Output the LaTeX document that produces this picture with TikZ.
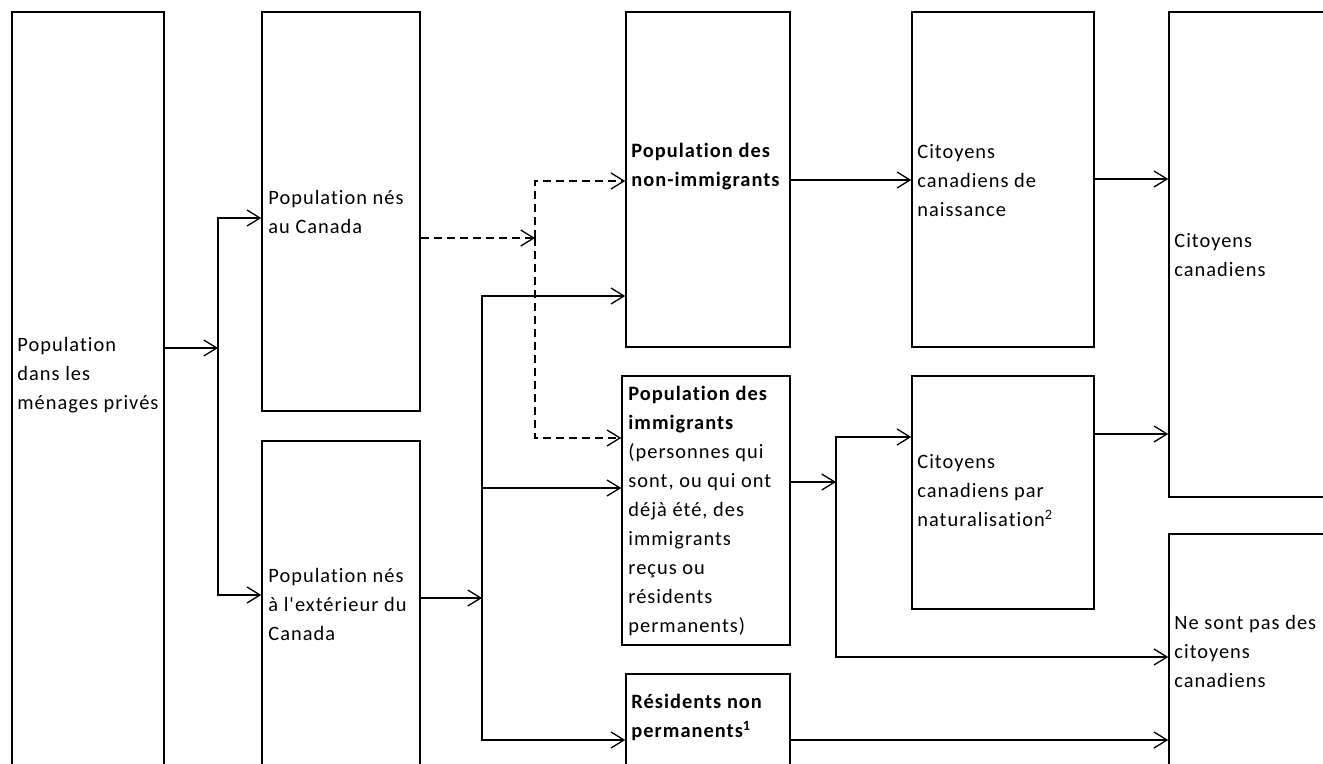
\documentclass[tikz,border=0pt]{standalone}
\usepackage{fontspec}
\setmainfont{Carlito}[LetterSpace=5, Ligatures={CommonOff,TeXOff}]
\usetikzlibrary{arrows.meta,fit}
\tikzset{
  box/.style={draw, line width=0.75pt, inner sep=0pt, rectangle},
  txt/.style={anchor=west, align=left, inner sep=0pt, font=\fontsize{10.2}{14.5}\selectfont},
  arr/.style={line width=0.65pt, -{Straight Barb[length=6.5pt, width=8pt, line width=0.65pt]}},
  darr/.style={arr, dash pattern=on 4pt off 2.5pt},
}
\begin{document}
\begin{tikzpicture}[x=0.5pt,y=-0.5pt]
\useasboundingbox (0,0) rectangle (1323,764);
% boxes
\node[box, fit={(12,12) (164,790)}] (A) {};
\node[box, fit={(262,12) (420,411)}] (B) {};
\node[box, fit={(262,441) (420,790)}] (C) {};
\node[box, fit={(626,12) (790,347)}] (D) {};
\node[box, fit={(622,376) (790,645)}] (E) {};
\node[box, fit={(626,674) (790,790)}] (F) {};
\node[box, fit={(912,12) (1094,347)}] (G) {};
\node[box, fit={(912,376) (1094,609)}] (H) {};
\node[box, fit={(1169,12) (1345,497)}] (I) {};
\node[box, fit={(1169,534) (1345,790)}] (J) {};
% texts
\node[txt] (tA) at (17,375) {Population\\dans les\\ménages privés};
\node[txt] (tB) at (268,211.5) {Population nés\\au Canada};
\node[txt] (tC) at (268,604) {Population nés\\à l'extérieur du\\Canada};
\node[txt] (tD) at (631,166.5) {\textbf{Population des}\\\textbf{non-immigrants}};
\node[txt] (tE) at (628,511) {\textbf{Population des}\\\textbf{immigrants}\\(personnes qui\\sont, ou qui ont\\déjà été, des\\immigrants\\reçus ou\\résidents\\permanents)};
\node[txt] (tF) at (631,717.5) {\textbf{Résidents non}\\\textbf{permanents\textsuperscript{1}}};
\node[txt] (tG) at (917,181) {Citoyens\\canadiens de\\naissance};
\node[txt] (tH) at (917,491) {Citoyens\\canadiens par\\naturalisation\textsuperscript{2}};
\node[txt] (tI) at (1174,255.5) {Citoyens\\canadiens};
\node[txt] (tJ) at (1174,651) {Ne sont pas des\\citoyens\\canadiens};
% junctions and levels
\coordinate (jA) at (218,348);
\coordinate (yB) at (0,218);
\coordinate (yC) at (0,595);
\coordinate (jB) at (535,238);
\coordinate (yD1) at (0,181);
\coordinate (yE1) at (0,438);
\coordinate (jC) at (482,598);
\coordinate (yD2) at (0,296);
\coordinate (yE2) at (0,488);
\coordinate (yF) at (0,740);
\coordinate (jE) at (836,482);
\coordinate (yH) at (0,437);
\coordinate (yJ) at (0,657);
\coordinate (yG) at (0,180);
\coordinate (yI1) at (0,179);
\coordinate (yI2) at (0,434);
% connectors
\draw[arr] (A.east|-jA) -- (jA);
\draw[arr] (jA) |- (B.west|-yB);
\draw[arr] (jA) |- (C.west|-yC);
\draw[darr] (B.east|-jB) -- (jB);
\draw[darr] (jB) |- (D.west|-yD1);
\draw[darr] (jB) |- (E.west|-yE1);
\draw[arr] (C.east|-jC) -- (jC);
\draw[arr] (jC) |- (D.west|-yD2);
\draw[arr] (jC) |- (E.west|-yE2);
\draw[arr] (jC) |- (F.west|-yF);
\draw[arr] (E.east|-jE) -- (jE);
\draw[arr] (jE) |- (H.west|-yH);
\draw[arr] (jE) |- (J.west|-yJ);
\draw[arr] (F.east|-yF) -- (J.west|-yF);
\draw[arr] (D.east|-yG) -- (G.west|-yG);
\draw[arr] (G.east|-yI1) -- (I.west|-yI1);
\draw[arr] (H.east|-yI2) -- (I.west|-yI2);
\end{tikzpicture}
\end{document}
